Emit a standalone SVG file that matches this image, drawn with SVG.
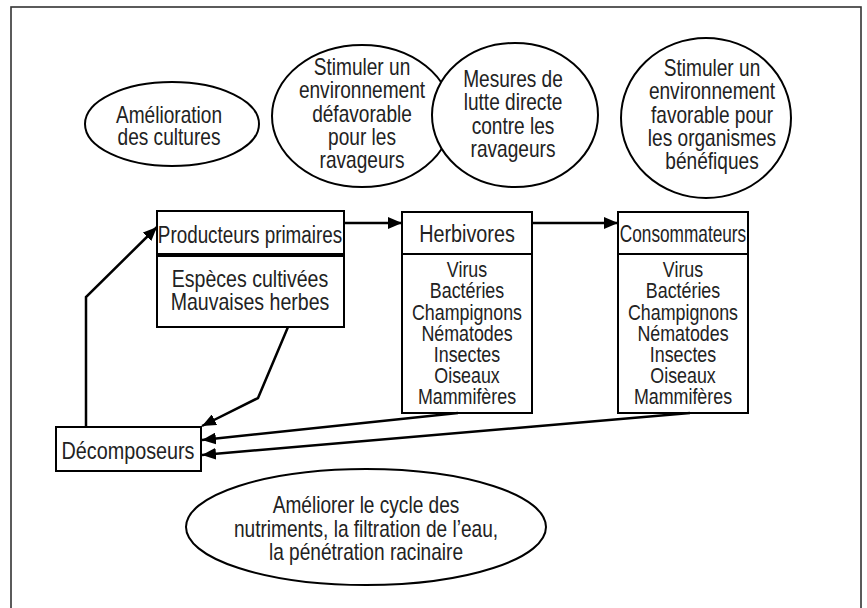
<svg xmlns="http://www.w3.org/2000/svg" width="867" height="608" viewBox="0 0 867 608">
<defs>
<marker id="ah" viewBox="0 0 14 12" refX="14" refY="6" markerWidth="14" markerHeight="12" markerUnits="userSpaceOnUse" orient="auto">
<path d="M0,0 L14,6 L0,12 z" fill="#000"/>
</marker>
<style>
.t{font-family:"Liberation Sans",Arial,sans-serif;font-size:23px;fill:#222;text-anchor:middle}
.s{font-size:21.5px}
.box{fill:#fff;stroke:#000;stroke-width:2}
.ell{fill:#fff;stroke:#000;stroke-width:2}
.c{fill:none;stroke:#000;stroke-width:2.5;marker-end:url(#ah)}
</style>
</defs>
<rect x="0" y="0" width="867" height="608" fill="#fff"/>
<rect x="11" y="7" width="850" height="640" fill="none" stroke="#333" stroke-width="1.6"/>

<g id="e-amelioration">
<ellipse class="ell" cx="172" cy="124" rx="87" ry="42"/>
<text class="t" transform="translate(169,123) scale(0.83,1)">Amélioration</text>
<text class="t" transform="translate(169,145) scale(0.83,1)">des cultures</text>
</g>
<g id="e-defavorable">
<ellipse class="ell" cx="362" cy="116" rx="90" ry="71"/>
<text class="t" transform="translate(362,75) scale(0.83,1)">Stimuler un</text>
<text class="t" transform="translate(362,98) scale(0.83,1)">environnement</text>
<text class="t" transform="translate(362,122) scale(0.83,1)">défavorable</text>
<text class="t" transform="translate(362,145) scale(0.83,1)">pour les</text>
<text class="t" transform="translate(362,168) scale(0.83,1)">ravageurs</text>
</g>
<g id="e-lutte">
<ellipse class="ell" cx="515" cy="115" rx="83" ry="72"/>
<text class="t" transform="translate(513,87) scale(0.83,1)">Mesures de</text>
<text class="t" transform="translate(513,110) scale(0.83,1)">lutte directe</text>
<text class="t" transform="translate(513,134) scale(0.83,1)">contre les</text>
<text class="t" transform="translate(513,157) scale(0.83,1)">ravageurs</text>
</g>
<g id="e-favorable">
<ellipse class="ell" cx="706" cy="118" rx="85" ry="80"/>
<text class="t" transform="translate(712,76) scale(0.83,1)">Stimuler un</text>
<text class="t" transform="translate(712,99) scale(0.83,1)">environnement</text>
<text class="t" transform="translate(712,123) scale(0.83,1)">favorable pour</text>
<text class="t" transform="translate(712,146) scale(0.83,1)">les organismes</text>
<text class="t" transform="translate(712,169) scale(0.83,1)">bénéfiques</text>
</g>

<g id="producteurs">
<rect class="box" x="157" y="211" width="187" height="43"/>
<rect class="box" x="157" y="256" width="187" height="71"/>
<text class="t" transform="translate(250,243) scale(0.82,1)">Producteurs primaires</text>
<text class="t" transform="translate(250,287) scale(0.85,1)">Espèces cultivées</text>
<text class="t" transform="translate(250,310) scale(0.85,1)">Mauvaises herbes</text>
</g>
<g id="herbivores">
<rect class="box" x="402" y="212" width="130" height="201"/>
<line x1="402" y1="254" x2="532" y2="254" stroke="#000" stroke-width="2"/>
<text class="t" transform="translate(467,242) scale(0.86,1)">Herbivores</text>
<text class="t s" transform="translate(467,277) scale(0.83,1)">Virus</text>
<text class="t s" transform="translate(467,298) scale(0.83,1)">Bactéries</text>
<text class="t s" transform="translate(467,320) scale(0.83,1)">Champignons</text>
<text class="t s" transform="translate(467,341) scale(0.83,1)">Nématodes</text>
<text class="t s" transform="translate(467,362) scale(0.83,1)">Insectes</text>
<text class="t s" transform="translate(467,383) scale(0.83,1)">Oiseaux</text>
<text class="t s" transform="translate(467,404) scale(0.83,1)">Mammifères</text>
</g>
<g id="consommateurs">
<rect class="box" x="618" y="212" width="130" height="201"/>
<line x1="618" y1="254" x2="748" y2="254" stroke="#000" stroke-width="2"/>
<text class="t" transform="translate(683,242) scale(0.75,1)">Consommateurs</text>
<text class="t s" transform="translate(683,277) scale(0.83,1)">Virus</text>
<text class="t s" transform="translate(683,298) scale(0.83,1)">Bactéries</text>
<text class="t s" transform="translate(683,320) scale(0.83,1)">Champignons</text>
<text class="t s" transform="translate(683,341) scale(0.83,1)">Nématodes</text>
<text class="t s" transform="translate(683,362) scale(0.83,1)">Insectes</text>
<text class="t s" transform="translate(683,383) scale(0.83,1)">Oiseaux</text>
<text class="t s" transform="translate(683,404) scale(0.83,1)">Mammifères</text>
</g>
<g id="decomposeurs">
<rect class="box" x="56" y="427" width="145" height="44"/>
<text class="t" transform="translate(128,459) scale(0.86,1)">Décomposeurs</text>
</g>
<g id="e-nutriments">
<ellipse class="ell" cx="366" cy="527" rx="180" ry="58"/>
<text class="t" transform="translate(366,513) scale(0.83,1)">Améliorer le cycle des</text>
<text class="t" transform="translate(366,537) scale(0.83,1)">nutriments, la filtration de l’eau,</text>
<text class="t" transform="translate(366,560) scale(0.83,1)">la pénétration racinaire</text>
</g>

<g id="connectors">
<polyline class="c" points="86,427 86,297 157,227"/>
<polyline class="c" points="288,327 258,398 202,426"/>
<line class="c" x1="344" y1="223" x2="402" y2="223"/>
<line class="c" x1="532" y1="223" x2="618" y2="223"/>
<line class="c" x1="458" y1="413" x2="202" y2="440"/>
<line class="c" x1="690" y1="413" x2="202" y2="455"/>
</g>
</svg>
